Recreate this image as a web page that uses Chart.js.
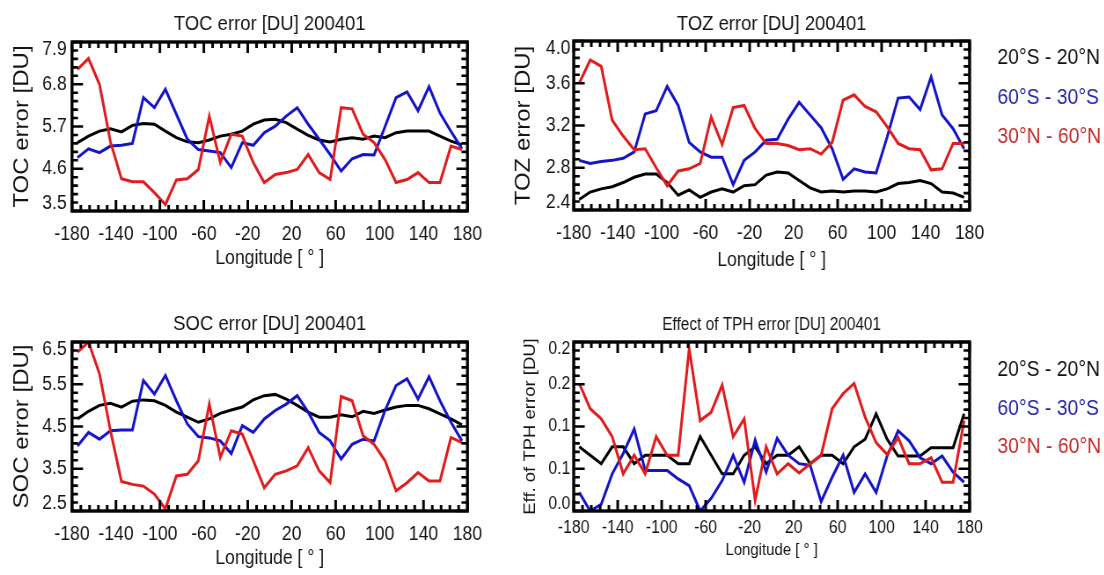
<!DOCTYPE html>
<html lang="en">
<head>
<meta charset="utf-8">
<title>Error profiles along longitude, 200401</title>
<script src="https://cdn.jsdelivr.net/npm/chart.js@4.4.1/dist/chart.umd.min.js"></script>
<style>
  html, body { margin: 0; padding: 0; background: #ffffff; }
  body { position: relative; width: 1104px; height: 575px; overflow: hidden; }
  .panel { position: absolute; transform-origin: 0 0; }
  .panel canvas { display: block; }
</style>
</head>
<body>
<div class="panel" id="wrapToc"><canvas id="chartToc"></canvas></div>
<div class="panel" id="wrapToz"><canvas id="chartToz"></canvas></div>
<div class="panel" id="wrapSoc"><canvas id="chartSoc"></canvas></div>
<div class="panel" id="wrapTph"><canvas id="chartTph"></canvas></div>
<script>
// ---------------- data ----------------
// 10-degree longitude bins (bin centres)
const longitudes = [-175, -165, -155, -145, -135, -125, -115, -105, -95, -85, -75, -65,
                    -55, -45, -35, -25, -15, -5, 5, 15, 25, 35, 45, 55,
                    65, 75, 85, 95, 105, 115, 125, 135, 145, 155, 165, 175];

const regions = ['20°S - 20°N', '60°S - 30°S', '30°N - 60°N'];

const lonTicks = [-180, -140, -100, -60, -20, 20, 60, 100, 140, 180];
const lonTickLabels = ['-180', '-140', '-100', '-60', '-20', '20', '60', '100', '140', '180'];

// Total ozone column error [DU]
const tocTropics = [5.28, 5.45, 5.58, 5.64, 5.56, 5.73, 5.78, 5.76, 5.58, 5.41, 5.30, 5.28,
                    5.35, 5.45, 5.50, 5.58, 5.76, 5.87, 5.89, 5.80, 5.63, 5.47, 5.35, 5.30,
                    5.37, 5.41, 5.37, 5.45, 5.41, 5.54, 5.58, 5.58, 5.58, 5.45, 5.32, 5.22];
const tocSouth   = [4.89, 5.12, 5.02, 5.19, 5.21, 5.26, 6.45, 6.19, 6.67, 6.02, 5.37, 5.10,
                    5.06, 5.02, 4.63, 5.28, 5.21, 5.54, 5.71, 5.97, 6.19, 5.76, 5.37, 4.97,
                    4.54, 4.86, 4.97, 4.96, 5.70, 6.45, 6.60, 6.11, 6.74, 6.05, 5.57, 5.12];
const tocNorth   = [7.19, 7.47, 6.80, 5.30, 4.34, 4.26, 4.26, 3.98, 3.67, 4.31, 4.34, 4.58,
                    5.97, 4.76, 5.50, 5.45, 4.76, 4.24, 4.45, 4.50, 4.58, 4.97, 4.50, 4.32,
                    6.19, 6.16, 5.50, 5.28, 4.84, 4.24, 4.32, 4.50, 4.24, 4.24, 5.19, 5.10];
const tocTicks = [3.5, 4.6, 5.7, 6.8, 7.9];
const tocTickLabels = ['3.5', '4.6', '5.7', '6.8', '7.9'];

// Tropospheric ozone error [DU]
const tozTropics = [2.50, 2.57, 2.60, 2.62, 2.66, 2.71, 2.74, 2.74, 2.66, 2.54, 2.59, 2.52,
                    2.57, 2.60, 2.57, 2.63, 2.64, 2.73, 2.76, 2.75, 2.68, 2.61, 2.57, 2.58,
                    2.57, 2.58, 2.58, 2.57, 2.60, 2.65, 2.66, 2.68, 2.65, 2.57, 2.56, 2.52];
const tozSouth   = [2.87, 2.84, 2.86, 2.87, 2.89, 2.95, 3.31, 3.34, 3.57, 3.39, 3.04, 2.95,
                    2.90, 2.90, 2.64, 2.87, 2.95, 3.06, 3.07, 3.26, 3.42, 3.30, 3.18, 2.98,
                    2.69, 2.79, 2.76, 2.75, 3.09, 3.46, 3.47, 3.35, 3.66, 3.30, 3.17, 2.98];
const tozNorth   = [3.60, 3.82, 3.76, 3.25, 3.10, 2.97, 2.98, 2.80, 2.63, 2.77, 2.79, 2.84,
                    3.28, 3.02, 3.37, 3.39, 3.17, 3.03, 3.03, 3.01, 2.97, 2.98, 2.93, 3.04,
                    3.44, 3.49, 3.38, 3.33, 3.19, 3.03, 2.98, 2.97, 2.78, 2.79, 3.03, 3.03];
const tozTicks = [2.4, 2.8, 3.2, 3.6, 4.0];
const tozTickLabels = ['2.4', '2.8', '3.2', '3.6', '4.0'];

// Stratospheric ozone column error [DU]
const socTropics = [4.68, 4.86, 5.00, 5.05, 4.96, 5.10, 5.13, 5.11, 5.00, 4.84, 4.72, 4.60,
                    4.68, 4.81, 4.89, 4.96, 5.13, 5.23, 5.26, 5.15, 5.00, 4.84, 4.72, 4.72,
                    4.78, 4.73, 4.86, 4.81, 4.89, 4.96, 5.00, 5.00, 4.92, 4.80, 4.68, 4.54];
const socSouth   = [4.04, 4.36, 4.20, 4.40, 4.42, 4.42, 5.59, 5.27, 5.71, 5.11, 4.56, 4.26,
                    4.23, 4.16, 3.86, 4.52, 4.36, 4.68, 4.88, 5.03, 5.23, 4.84, 4.36, 4.16,
                    3.73, 4.08, 4.20, 4.16, 4.88, 5.47, 5.63, 5.15, 5.68, 5.11, 4.60, 4.16];
const socNorth   = [6.26, 6.50, 5.75, 4.40, 3.20, 3.13, 3.09, 2.90, 2.55, 3.33, 3.37, 3.69,
                    5.03, 3.77, 4.40, 4.32, 3.69, 3.05, 3.37, 3.45, 3.57, 4.00, 3.45, 3.17,
                    5.21, 5.11, 4.28, 4.08, 3.69, 2.98, 3.17, 3.41, 3.21, 3.21, 4.24, 4.12];
const socTicks = [2.5, 3.5, 4.5, 5.5, 6.5];
const socTickLabels = ['2.5', '3.5', '4.5', '5.5', '6.5'];

// Effect of tropopause height error [DU]
const tphTropics = [0.076, 0.066, 0.056, 0.076, 0.076, 0.056, 0.066, 0.066, 0.066, 0.056, 0.056, 0.088,
                    0.066, 0.044, 0.044, 0.066, 0.076, 0.056, 0.066, 0.066, 0.076, 0.056, 0.066, 0.066,
                    0.056, 0.076, 0.085, 0.115, 0.085, 0.065, 0.065, 0.065, 0.075, 0.075, 0.075, 0.115];
const tphSouth   = [0.022, 0.000, 0.008, 0.044, 0.068, 0.097, 0.048, 0.048, 0.048, 0.038, 0.030, 0.000,
                    0.015, 0.036, 0.066, 0.034, 0.084, 0.046, 0.086, 0.066, 0.056, 0.054, 0.011, 0.040,
                    0.066, 0.022, 0.044, 0.022, 0.065, 0.095, 0.083, 0.063, 0.056, 0.065, 0.046, 0.034];
const tphNorth   = [0.151, 0.121, 0.109, 0.088, 0.044, 0.066, 0.044, 0.088, 0.066, 0.066, 0.192, 0.107,
                    0.117, 0.149, 0.088, 0.109, 0.013, 0.076, 0.044, 0.056, 0.045, 0.056, 0.066, 0.121,
                    0.139, 0.151, 0.111, 0.081, 0.067, 0.087, 0.056, 0.056, 0.063, 0.034, 0.034, 0.107];
const tphTicks = [0, 0.05, 0.1, 0.15, 0.2];
const tphTickLabels = ['0.0', '0.1', '0.1', '0.2', '0.2'];

// ---------------- styling ----------------
const SQUEEZE = 0.88;           // horizontal compression of every panel
const FONT = "'Liberation Sans', Arial, Helvetica, sans-serif";
const TEXT = '#141414';
const SERIES_COLORS = ['#000000', '#1414c8', '#e01c1c'];
const LEGEND_COLORS = ['#111111', '#2424a8', '#c82828'];
const CANVAS_H = 275;

// IDL-style boxed frame with inward major/minor ticks on all four sides
const idlFrame = {
  id: 'idlFrame',
  afterDatasetsDraw(chart) {
    const {ctx, chartArea: a} = chart;
    const xs = chart.scales.x, ys = chart.scales.y;
    const majX = 11, minX = 6;                  // vertical tick lengths
    const majY = 11 / SQUEEZE, minY = 6 / SQUEEZE;  // horizontal tick lengths
    const sub = 5;
    ctx.save();
    ctx.strokeStyle = '#000';
    ctx.lineCap = 'butt';

    const xv = xs.ticks.map(t => t.value);
    ctx.lineWidth = 2.6 / SQUEEZE;
    ctx.beginPath();
    xv.forEach((v, i) => {
      const px = xs.getPixelForValue(v);
      ctx.moveTo(px, a.bottom); ctx.lineTo(px, a.bottom - majX);
      ctx.moveTo(px, a.top); ctx.lineTo(px, a.top + majX);
      if (i < xv.length - 1) {
        for (let k = 1; k < sub; k++) {
          const m = xs.getPixelForValue(v + (xv[i + 1] - v) * k / sub);
          ctx.moveTo(m, a.bottom); ctx.lineTo(m, a.bottom - minX);
          ctx.moveTo(m, a.top); ctx.lineTo(m, a.top + minX);
        }
      }
    });
    ctx.stroke();

    const yv = ys.ticks.map(t => t.value);
    ctx.lineWidth = 2.6;
    ctx.beginPath();
    yv.forEach((v, i) => {
      const py = ys.getPixelForValue(v);
      ctx.moveTo(a.left, py); ctx.lineTo(a.left + majY, py);
      ctx.moveTo(a.right, py); ctx.lineTo(a.right - majY, py);
      if (i < yv.length - 1) {
        for (let k = 1; k < sub; k++) {
          const m = ys.getPixelForValue(v + (yv[i + 1] - v) * k / sub);
          ctx.moveTo(a.left, m); ctx.lineTo(a.left + minY, m);
          ctx.moveTo(a.right, m); ctx.lineTo(a.right - minY, m);
        }
      }
    });
    ctx.stroke();

    ctx.lineWidth = 3.4;
    ctx.strokeRect(a.left, a.top, a.right - a.left, a.bottom - a.top);
    ctx.restore();
  }
};

// Region key written as coloured text to the right of the frame
const regionKey = {
  id: 'regionKey',
  afterDraw(chart, args, o) {
    if (!o || !o.ys) return;
    const {ctx} = chart;
    ctx.save();
    ctx.font = `${o.size}px ${FONT}`;
    ctx.textAlign = 'left';
    ctx.textBaseline = 'middle';
    chart.data.datasets.forEach((ds, k) => {
      ctx.fillStyle = LEGEND_COLORS[k];
      ctx.fillText(ds.label, o.x / SQUEEZE, o.ys[k]);
    });
    ctx.restore();
  }
};

function makePanel(wrapId, canvasId, L, series, yTicks, yLabels, title, yTitle) {
  const wrap = document.getElementById(wrapId);
  wrap.style.left = L.left + 'px';
  wrap.style.top = L.top + 'px';
  wrap.style.transform = `scaleX(${SQUEEZE})`;

  const canvas = document.getElementById(canvasId);
  const w = Math.round(L.width / SQUEEZE);
  canvas.width = w; canvas.height = CANVAS_H;
  canvas.style.width = w + 'px'; canvas.style.height = CANVAS_H + 'px';

  const axisW = L.axisW / SQUEEZE;
  const yTitleOffset = L.yTitleX / SQUEEZE - L.yTitleSize * 1.2 / 2;

  return new Chart(canvas, {
    type: 'line',
    data: {
      datasets: series.map((vals, k) => ({
        label: regions[k],
        data: longitudes.map((lon, i) => ({x: lon, y: vals[i]})),
        borderColor: SERIES_COLORS[k],
        borderWidth: 3,
        pointRadius: 0,
        tension: 0,
        fill: false,
        order: 3 - k
      }))
    },
    options: {
      responsive: false,
      animation: false,
      devicePixelRatio: 1,
      events: [],
      layout: {padding: 0},
      plugins: {
        legend: {display: false},
        tooltip: {enabled: false},
        title: {
          display: true, text: title, color: TEXT,
          font: {family: FONT, size: L.titleSize, weight: 'normal'},
          padding: L.titlePad
        },
        regionKey: L.key || {}
      },
      scales: {
        x: {
          type: 'linear', min: -180, max: 180, offset: false,
          afterBuildTicks: s => { s.ticks = lonTicks.map(v => ({value: v})); },
          afterFit: s => { s.height = L.xHeight; },
          grid: {display: false, drawTicks: false},
          border: {display: false},
          ticks: {
            autoSkip: false, maxRotation: 0, minRotation: 0, padding: L.xTickPad, color: TEXT,
            font: {family: FONT, size: L.tickSize},
            callback: (v, i) => lonTickLabels[i]
          },
          title: {
            display: true, text: 'Longitude [ ° ]', color: TEXT,
            font: {family: FONT, size: L.xTitleSize}, padding: {top: 0, bottom: L.xTitlePad}
          }
        },
        y: {
          type: 'linear', position: 'left',
          min: yTicks[0], max: yTicks[yTicks.length - 1],
          afterBuildTicks: s => { s.ticks = yTicks.map(v => ({value: v})); },
          afterFit: s => { s.width = axisW; },
          grid: {display: false, drawTicks: false},
          border: {display: false},
          ticks: {
            autoSkip: false, padding: L.yTickPad / SQUEEZE, color: TEXT,
            font: {family: FONT, size: L.tickSize, lineHeight: 0.75},
            callback: (v, i, t) => {
              const s = yLabels[i];
              if (i === 0) return [s, ''];
              if (i === t.length - 1) return ['', s];
              return s;
            }
          },
          title: {
            display: true, text: yTitle, color: TEXT,
            font: {family: FONT, size: L.yTitleSize}, padding: {top: yTitleOffset, bottom: 0}
          }
        },
        yRight: {
          type: 'linear', position: 'right', display: true,
          afterFit: s => { s.width = axisW; },
          grid: {display: false, drawTicks: false},
          border: {display: false},
          ticks: {display: false}
        }
      }
    },
    plugins: [idlFrame, regionKey]
  });
}

// ---------------- panels ----------------
const leftCol = {
  left: 0, width: 539, axisW: 72,
  titleSize: 21, titlePad: {top: 11.4, bottom: 5.4},
  tickSize: 20, xHeight: 64, xTickPad: 11, xTitleSize: 20, xTitlePad: 4.5,
  yTickPad: 5.3, yTitleSize: 24, yTitleX: 22
};

makePanel('wrapToc', 'chartToc', Object.assign({top: 0}, leftCol),
  [tocTropics, tocSouth, tocNorth], tocTicks, tocTickLabels,
  'TOC error [DU] 200401', 'TOC error [DU]');

makePanel('wrapSoc', 'chartSoc', Object.assign({top: 300}, leftCol),
  [socTropics, socSouth, socNorth], socTicks, socTickLabels,
  'SOC error [DU] 200401', 'SOC error [DU]');

makePanel('wrapToz', 'chartToz', {
    left: 438.6, top: 0, width: 665.4, axisW: 134.7,
    titleSize: 21, titlePad: {top: 11.4, bottom: 4.4},
    tickSize: 20, xHeight: 65, xTickPad: 11.3, xTitleSize: 20, xTitlePad: 3,
    yTickPad: 3.3, yTitleSize: 24, yTitleX: 85,
    key: {x: 558.4, ys: [58, 98, 137], size: 22}
  },
  [tozTropics, tozSouth, tozNorth], tozTicks, tozTickLabels,
  'TOZ error [DU] 200401', 'TOZ error [DU]');

makePanel('wrapTph', 'chartTph', {
    left: 438.6, top: 300, width: 665.4, axisW: 134.7,
    titleSize: 17.5, titlePad: {top: 14.5, bottom: 6.5},
    tickSize: 18, xHeight: 64, xTickPad: 6.7, xTitleSize: 17, xTitlePad: 14.8,
    yTickPad: 3.3, yTitleSize: 18.5, yTitleX: 91.4,
    key: {x: 558.4, ys: [70, 109, 147], size: 22}
  },
  [tphTropics, tphSouth, tphNorth], tphTicks, tphTickLabels,
  'Effect of TPH error [DU] 200401', 'Eff. of TPH error [DU]');
</script>
</body>
</html>
